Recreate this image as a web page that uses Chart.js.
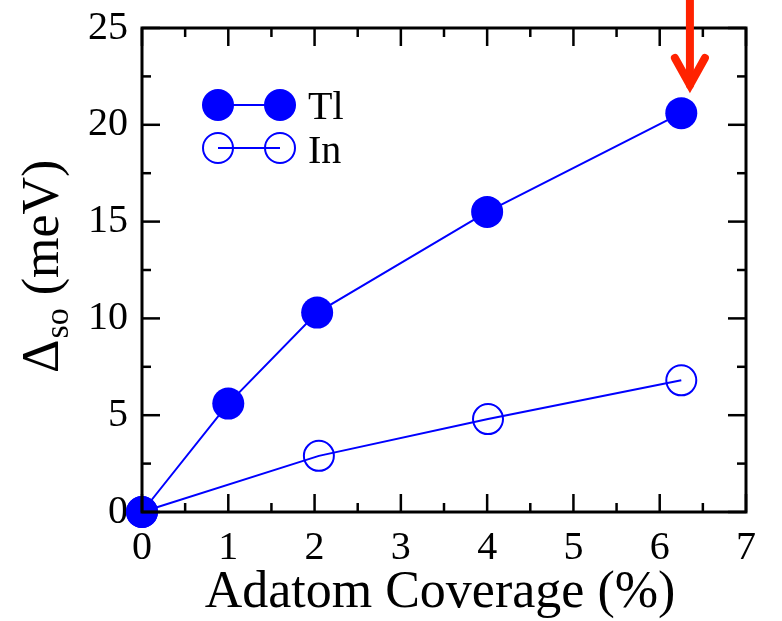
<!DOCTYPE html>
<html>
<head>
<meta charset="utf-8">
<script src="https://cdn.jsdelivr.net/npm/chart.js@4"></script>
<style>
html,body{margin:0;padding:0;background:#fff;}
#wrap{width:782px;height:621px;position:relative;}
</style>
</head>
<body>
<div id="wrap"><canvas id="c" width="782" height="621"></canvas></div>
<script>
// Data
const tlX = [0, 1, 2.03, 4, 6.25];
const tlY = [0, 5.6, 10.3, 15.5, 20.6];
const inX = [0, 2.05, 4.01, 6.25];
const inY = [0, 2.9, 4.8, 6.8];
const seriesNames = ['Tl', 'In'];
const xTicks = [0, 1, 2, 3, 4, 5, 6, 7];
const yTicks = [0, 5, 10, 15, 20, 25];
const xMinorTicks = [0.5, 1.5, 2.5, 3.5, 4.5, 5.5, 6.5];
const yMinorTicks = [2.5, 7.5, 12.5, 17.5, 22.5];
const xTitle = 'Adatom Coverage (%)';
const yTitleMain = '\u0394';
const yTitleSub = 'so';
const yTitleRest = ' (meV)';
const arrowX = 6.35;
const arrowTipY = 21.9;

const BLUE = '#0000ff';
const FONT = '"Liberation Serif", "DejaVu Serif", serif';

const toPts = (xs, ys) => xs.map((x, i) => ({x: x, y: ys[i]}));

const decor = {
  id: 'decor',
  afterDatasetsDraw(chart) {
    const ctx = chart.ctx;
    const a = chart.chartArea;
    const xs = chart.scales.x, ys = chart.scales.y;
    ctx.save();
    // frame
    ctx.strokeStyle = '#000';
    ctx.lineWidth = 3;
    ctx.strokeRect(a.left, a.top, a.right - a.left, a.bottom - a.top);
    // ticks (inward, all sides)
    ctx.lineWidth = 2.5;
    const tick = (x1, y1, x2, y2) => { ctx.beginPath(); ctx.moveTo(x1, y1); ctx.lineTo(x2, y2); ctx.stroke(); };
    const MAJ = 18, MIN = 9;
    xTicks.forEach(v => { const p = xs.getPixelForValue(v); tick(p, a.bottom, p, a.bottom - MAJ); tick(p, a.top, p, a.top + MAJ); });
    xMinorTicks.forEach(v => { const p = xs.getPixelForValue(v); tick(p, a.bottom, p, a.bottom - MIN); tick(p, a.top, p, a.top + MIN); });
    yTicks.forEach(v => { const p = ys.getPixelForValue(v); tick(a.left, p, a.left + MAJ, p); tick(a.right, p, a.right - MAJ, p); });
    yMinorTicks.forEach(v => { const p = ys.getPixelForValue(v); tick(a.left, p, a.left + MIN, p); tick(a.right, p, a.right - MIN, p); });

    // legend
    const lx1 = 218, lx2 = 280, ly1 = 105, ly2 = 148;
    ctx.strokeStyle = BLUE; ctx.fillStyle = BLUE; ctx.lineWidth = 2;
    tick(lx1, ly1, lx2, ly1);
    [lx1, lx2].forEach(x => { ctx.beginPath(); ctx.arc(x, ly1, 16, 0, Math.PI * 2); ctx.fill(); });
    [lx1, lx2].forEach(x => { ctx.beginPath(); ctx.arc(x, ly2, 15, 0, Math.PI * 2); ctx.stroke(); });
    tick(lx1, ly2, lx2, ly2);
    ctx.fillStyle = '#000';
    ctx.font = '40px ' + FONT;
    ctx.textAlign = 'left'; ctx.textBaseline = 'alphabetic';
    ctx.fillText(seriesNames[0], 308, 119);
    ctx.fillText(seriesNames[1], 308, 163);

    // x title
    ctx.font = '52px ' + FONT;
    ctx.textAlign = 'center';
    ctx.fillText(xTitle, 440, 607);

    // y title (rotated)
    ctx.save();
    ctx.translate(58, 373);
    ctx.rotate(-Math.PI / 2);
    ctx.textAlign = 'left';
    ctx.font = '52px ' + FONT;
    ctx.fillText(yTitleMain, 0, 0);
    let w = ctx.measureText(yTitleMain).width;
    ctx.font = '34px ' + FONT;
    ctx.fillText(yTitleSub, w + 1, 10);
    w += 1 + ctx.measureText(yTitleSub).width;
    ctx.font = '52px ' + FONT;
    ctx.fillText(yTitleRest, w, 0);
    ctx.restore();

    // red arrow
    const ax = xs.getPixelForValue(arrowX);
    const ay = ys.getPixelForValue(arrowTipY);
    ctx.strokeStyle = '#ff2200';
    ctx.lineWidth = 8;
    ctx.lineCap = 'round';
    ctx.lineJoin = 'miter';
    ctx.beginPath(); ctx.moveTo(ax, -5); ctx.lineTo(ax, ay - 3); ctx.stroke();
    ctx.beginPath(); ctx.moveTo(ax - 15, ay - 30); ctx.lineTo(ax, ay - 3); ctx.lineTo(ax + 15, ay - 30); ctx.stroke();
    ctx.restore();
  }
};

new Chart(document.getElementById('c'), {
  type: 'scatter',
  data: {
    datasets: [
      { label: seriesNames[0], data: toPts(tlX, tlY), showLine: true, borderColor: BLUE, backgroundColor: BLUE,
        borderWidth: 2, pointRadius: 16, pointBorderWidth: 0, pointBackgroundColor: BLUE, clip: false },
      { label: seriesNames[1], data: toPts(inX, inY), showLine: true, borderColor: BLUE, backgroundColor: 'rgba(0,0,0,0)',
        borderWidth: 2, pointRadius: 15, pointBorderWidth: 2, pointBackgroundColor: 'rgba(0,0,0,0)', pointBorderColor: BLUE, clip: false }
    ]
  },
  options: {
    responsive: false,
    animation: false,
    events: [],
    layout: { padding: { top: 28, right: 36, left: 0, bottom: 0 } },
    plugins: { legend: { display: false }, tooltip: { enabled: false } },
    scales: {
      x: {
        type: 'linear', min: 0, max: 7,
        afterFit(s) { s.height = 109; s.paddingLeft = 0; s.paddingRight = 0; },
        afterBuildTicks(s) { s.ticks = xTicks.map(v => ({value: v})); },
        grid: { display: false, drawTicks: false },
        border: { display: false },
        ticks: { padding: 12, color: '#000', font: { family: FONT, size: 40 }, maxRotation: 0, autoSkip: false }
      },
      y: {
        type: 'linear', min: 0, max: 25,
        afterFit(s) { s.width = 142; s.paddingTop = 0; s.paddingBottom = 0; },
        afterBuildTicks(s) { s.ticks = yTicks.map(v => ({value: v})); },
        grid: { display: false, drawTicks: false },
        border: { display: false },
        ticks: { padding: 14, color: '#000', font: { family: FONT, size: 40 }, autoSkip: false }
      }
    }
  },
  plugins: [decor]
});
</script>
</body>
</html>
